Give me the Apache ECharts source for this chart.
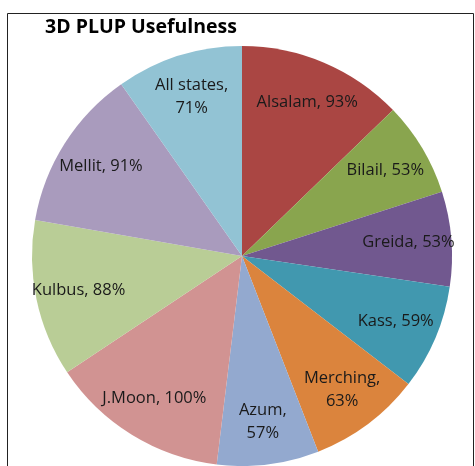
<!DOCTYPE html>
<html>
<head>
<meta charset="utf-8">
<script src="https://cdn.jsdelivr.net/npm/echarts@6/dist/echarts.min.js"></script>
<style>
  html, body { margin: 0; padding: 0; background: #fff; }
  #chart { width: 475px; height: 466px; }
</style>
</head>
<body>
<div id="chart"></div>
<script>
// slices, clockwise from 12 o'clock
const names = ['Alsalam', 'Bilail', 'Greida', 'Kass', 'Merching', 'Azum', 'J.Moon', 'Kulbus', 'Mellit', 'All states']
const values = [93, 53, 53, 59, 63, 57, 100, 88, 91, 71]
const colors = ['#AA4643', '#89A54E', '#71588F', '#4198AF', '#DB843D', '#93A9CF', '#D19392', '#B9CD96', '#A99BBD', '#92C3D4']
// labels that wrap onto two lines
const wrapped = ['Merching', 'Azum', 'All states']

const chart = echarts.init(document.getElementById('chart'))

const slices = names.map((n, i) => ({ name: n, value: values[i], itemStyle: { color: colors[i] } }))

chart.setOption({
  animation: false,
  title: {
    text: '3D PLUP Usefulness',
    left: 40,
    top: 12,
    textStyle: { fontFamily: 'Open Sans', fontSize: 19.5, fontWeight: 'bold', color: '#000' },
  },
  graphic: [
    {
      type: 'rect',
      shape: { x: 7.5, y: 13.5, width: 466, height: 470 },
      style: { fill: 'none', stroke: '#222', lineWidth: 1 },
      z: -1,
    },
  ],
  series: [
    {
      type: 'pie',
      center: [242, 256],
      radius: [0, 210],
      startAngle: 90,
      clockwise: true,
      data: slices,
      label: { show: false },
      labelLine: { show: false },
      itemStyle: { borderWidth: 0 },
    },
    {
      // transparent ring only used to place labels further out
      type: 'pie',
      center: [242, 256],
      radius: [118, 210],
      startAngle: 90,
      clockwise: true,
      silent: true,
      data: names.map((n, i) => ({ name: n, value: values[i] })),
      itemStyle: { color: 'rgba(0,0,0,0)' },
      labelLine: { show: false },
      label: {
        show: true,
        position: 'inside',
        fontFamily: 'Open Sans',
        fontSize: 16.5,
        lineHeight: 23,
        color: '#1a1a1a',
        formatter: (p) => p.name + (wrapped.includes(p.name) ? ',\n' : ', ') + p.value + '%',
      },
    },
  ],
})
</script>
</body>
</html>
